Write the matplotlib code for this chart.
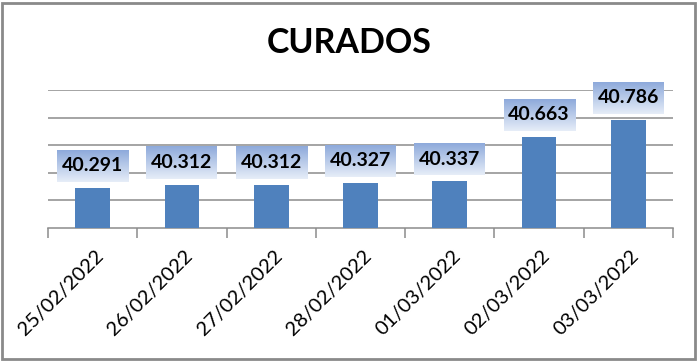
import matplotlib
matplotlib.use("Agg")
import matplotlib.pyplot as plt
import matplotlib.transforms as mtransforms
from matplotlib.patches import Rectangle
import numpy as np

# ---- data ----
dates = ["25/02/2022", "26/02/2022", "27/02/2022", "28/02/2022",
         "01/03/2022", "02/03/2022", "03/03/2022"]
values = [40291, 40312, 40312, 40327, 40337, 40663, 40786]
grid_values = [40200, 40400, 40600, 40800, 41000]
y_min, y_max = 40000, 41000
title = "CURADOS"

def fmt(v):
    return f"{v:,}".replace(",", ".")

plt.rcParams['font.family'] = ['Lato', 'DejaVu Sans']

W, H = 698, 361
fig = plt.figure(figsize=(W / 100, H / 100), dpi=100)
fig.patch.set_facecolor('white')
ax = fig.add_axes([48 / W, 133 / H, 625 / W, 138 / H])

x = np.arange(len(values))
ax.bar(x, values, width=0.39, color='#4F81BD', zorder=3)
ax.set_xlim(-0.5, len(values) - 0.5)
ax.set_ylim(y_min, y_max)
ax.set_yticks(grid_values)
ax.yaxis.grid(True, color='#8C8C8C', lw=1.1)
ax.set_axisbelow(True)
ax.tick_params(axis='y', length=0, labelleft=False)
for s in ['left', 'right', 'top']:
    ax.spines[s].set_visible(False)
ax.spines['bottom'].set_color('#8C8C8C')
ax.spines['bottom'].set_linewidth(1.1)

ax.set_xticks(x)
ax.set_xticklabels(dates, rotation=45, ha='right', va='top',
                   rotation_mode='anchor', fontsize=14.5, color='black')
ax.tick_params(axis='x', which='major', length=0, pad=14)
ax.set_xticks(np.arange(-0.5, len(values), 1), minor=True)
ax.tick_params(axis='x', which='minor', length=7, width=1.1,
               color='#8C8C8C', direction='out')
for lab in ax.get_xticklabels():
    lab.set_transform(lab.get_transform() +
                      mtransforms.ScaledTranslation(2 / 100, 0, fig.dpi_scale_trans))

# title
fig.text(349 / W, 1 - 43 / H, title, ha='center', va='center',
         fontsize=24.5, fontweight='bold', color='black')

# gradient data label boxes
grad = np.linspace(0, 1, 64).reshape(-1, 1)
top_c = np.array([0x8E, 0xAA, 0xDB]) / 255
bot_c = np.array([0xE6, 0xED, 0xF8]) / 255
img = (top_c[None, None, :] * (1 - grad[..., None]) +
       bot_c[None, None, :] * grad[..., None])
inv = ax.transData.inverted()
bw, bh, gap = 71, 32, 6
for xi, v in zip(x, values):
    px, py = ax.transData.transform((xi, v))
    x0, y0 = inv.transform((px - bw / 2, py + gap))
    x1, y1 = inv.transform((px + bw / 2, py + gap + bh))
    ax.imshow(img, extent=[x0, x1, y0, y1], aspect='auto', zorder=4,
              origin='upper', clip_on=False, interpolation='bilinear')
    ax.text(xi, (y0 + y1) / 2, fmt(v), ha='center', va='center',
            fontsize=14, fontweight='bold', color='black', zorder=5,
            clip_on=False)
ax.set_xlim(-0.5, len(values) - 0.5)
ax.set_ylim(y_min, y_max)

# outer frame
fig.patches.append(Rectangle((2 / W, 2 / H), 1 - 5 / W, 1 - 5 / H,
                             transform=fig.transFigure, fill=False,
                             edgecolor='#8A8A8A', lw=2))

fig.savefig('out.png', dpi=100)
